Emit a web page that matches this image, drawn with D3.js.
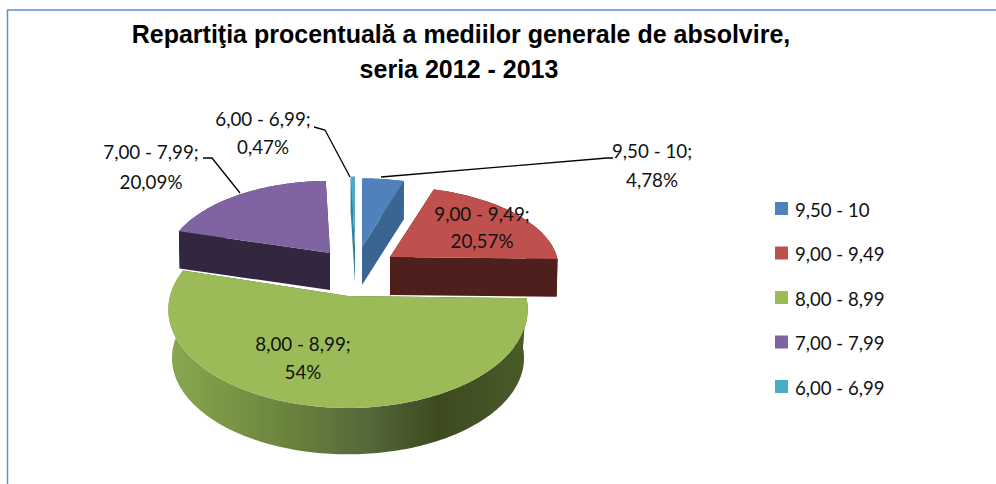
<!DOCTYPE html>
<html><head><meta charset="utf-8">
<script src="https://cdn.jsdelivr.net/npm/d3@7"></script>
<style>html,body{margin:0;background:#fff}svg{display:block}</style>
</head><body><script>
const categories = ["9,50 - 10","9,00 - 9,49","8,00 - 8,99","7,00 - 7,99","6,00 - 6,99"];
const values = [4.78,20.57,54,20.09,0.47];
const valueLabels = ["4,78%","20,57%","54%","20,09%","0,47%"];
const titleLines = ["Repartiţia procentuală a mediilor generale de absolvire,","seria 2012 - 2013"];

const topColors = ["#4f81bd","#c0504d","#9bbb59","#8064a2","#4bacc6"];
const wallColors = ["#3a6491","#4e1f1c","url(#greenWall)","#33263f","#2f8099"];
// per-slice geometry of the exploded 3D pie: screen origin, radii, depth
const sliceGeom = [
 {ox:362,oy:247,rx:160,ry:78,depth:38},
 {ox:390,oy:257,rx:167,ry:80,depth:38},
 {ox:348,oy:296,rx:178,ry:96.6,depth:49},
 {ox:330,oy:253,rx:163,ry:82,depth:37},
 {ox:355,oy:247,rx:163,ry:80,depth:36}];
const persp = 0.137;
const labelPos = [
 {x:652,y:[158,187]},{x:482,y:[221,248]},{x:303,y:[351,379]},{x:151,y:[159,189]},{x:263,y:[126,154]}];
const leaders = [
 [[381,177],[607,158],[613,158]],
 null,null,
 [[240,193],[212,158],[203,158]],
 [[350,177],[325,130],[314,127]]];
const legendY = d3.scalePoint().domain(categories).range([208.5,386.5]);

const svg = d3.select("body").append("svg").attr("width",996).attr("height",484);
const defs = svg.append("defs");
const grad = defs.append("linearGradient").attr("id","greenWall")
  .attr("gradientUnits","userSpaceOnUse").attr("x1",168).attr("x2",528).attr("y1",0).attr("y2",0);
[[0,"#8aa84f"],[0.3,"#6c873f"],[0.55,"#55693a"],[0.75,"#3d4a20"],[1,"#4a5b29"]].forEach(s=>
  grad.append("stop").attr("offset",s[0]).attr("stop-color",s[1]));

// frame
svg.append("path").attr("d",d3.line()([[7.5,484],[7.5,10],[996,10]]))
  .attr("fill","none").attr("stroke","#5f8fc8").attr("stroke-width",1.5);

// title
svg.append("g").selectAll("text").data(titleLines).join("text")
  .attr("x",(d,i)=>i?459:461).attr("y",(d,i)=>i?78:43).attr("text-anchor","middle")
  .attr("font-family","Liberation Sans").attr("font-weight","bold").attr("font-size",25)
  .attr("fill","#000").text(d=>d);

const arcs = d3.pie().sort(null).startAngle(0).endAngle(2*Math.PI)(values);
const line = d3.line();
function proj(g,t,r,dy){
  const w = 1 + persp*r*Math.cos(t);
  return [g.ox + g.rx*r*Math.sin(t)/w, g.oy - g.ry*r*Math.cos(t)/w + (dy||0)];
}
function rimPts(g,a,b,r,dy){
  const n = Math.max(2,Math.ceil((b-a)/0.02));
  return d3.range(n+1).map(i=>proj(g,a+(b-a)*i/n,r,dy));
}
const drawOrder = [4,0,3,1,2];
const pie = svg.append("g");
drawOrder.forEach(i=>{
  const a = arcs[i], g = sliceGeom[i], s = pie.append("g");
  const bottomR = i===2 ? 0.98 : 0.995;
  // outer wall
  const top = rimPts(g,a.startAngle,a.endAngle,1,0);
  const bot = rimPts(g,a.startAngle,a.endAngle,bottomR,g.depth);
  s.append("path").attr("d",line(top.concat(bot.reverse()))+"Z").attr("fill",wallColors[i]);
  // radial faces
  [a.startAngle,a.endAngle].forEach(t=>{
    const o=[g.ox,g.oy], e=proj(g,t,1,0), eb=proj(g,t,bottomR,g.depth), ob=[g.ox,g.oy+g.depth];
    s.append("path").attr("d",line([o,e,eb,ob])+"Z").attr("fill",i===2?"#4a5b29":wallColors[i]);
  });
  // top surface
  s.append("path").attr("d",line([[g.ox,g.oy]].concat(rimPts(g,a.startAngle,a.endAngle,1,0)))+"Z")
    .attr("fill",topColors[i]);
});

// leader lines
svg.append("g").selectAll("path").data(leaders.filter(Boolean)).join("path")
  .attr("d",d=>line(d)).attr("fill","none").attr("stroke","#000").attr("stroke-width",1.3);

// data labels
const labels = svg.append("g").attr("font-family","Lato").attr("font-size",18.8).attr("fill","#111").attr("text-anchor","middle");
categories.forEach((c,i)=>{
  labels.append("text").attr("x",labelPos[i].x).attr("y",labelPos[i].y[0]).text(c+";");
  labels.append("text").attr("x",labelPos[i].x).attr("y",labelPos[i].y[1]).text(valueLabels[i]);
});

// legend
const legend = svg.append("g").selectAll("g").data(categories).join("g")
  .attr("transform",d=>`translate(775,${legendY(d)})`);
legend.append("rect").attr("x",0).attr("y",-6.5).attr("width",13).attr("height",13)
  .attr("fill",(d,i)=>topColors[i]);
legend.append("text").attr("x",20).attr("y",8).attr("font-family","Lato").attr("font-size",18.6)
  .attr("fill","#111").text(d=>d);
</script></body></html>
